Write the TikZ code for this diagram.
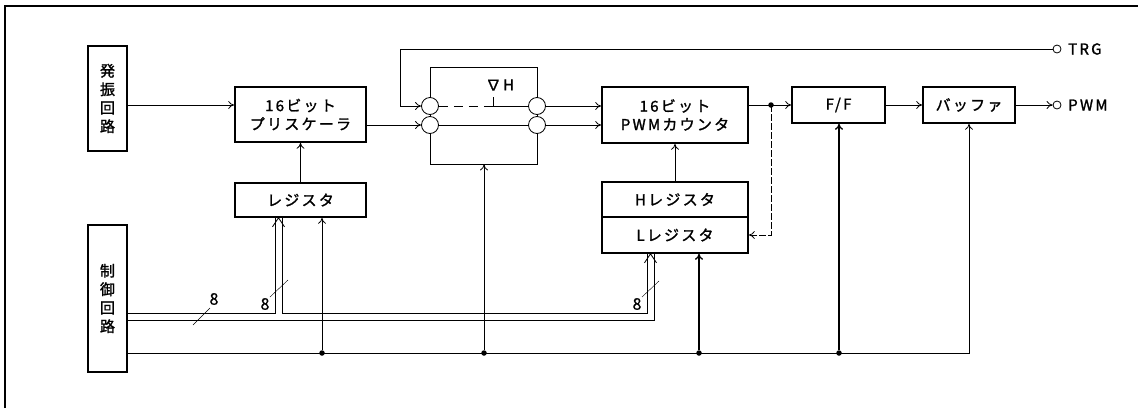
\documentclass[tikz,border=0pt]{standalone}
\usepackage{fontspec}
\usepackage{tikz}
\usetikzlibrary{arrows.meta, calc}
\newfontfamily\jp[LetterSpace=15, FakeBold=1.5]{Noto Sans CJK JP}
\newfontfamily\jpnum[FakeBold=1]{Noto Sans CJK JP}
\newcommand{\jpfs}{\jp\fontsize{15}{18.5}\selectfont}

\begin{document}
\begin{tikzpicture}[x=1pt, y=-1pt,
  box/.style={draw, line width=1.6pt, inner sep=0pt, align=center, font=\jpfs},
  port/.style={draw, circle, line width=0.8pt, minimum size=8pt, inner sep=0pt, fill=white},
  swc/.style={draw, circle, line width=0.8pt, minimum size=17pt, inner sep=0pt, fill=white},
  arw/.style={-{To[length=6pt, width=8pt]}, line width=0.8pt},
  dot/.style={circle, fill, inner sep=0pt, minimum size=5.5pt},
  wire/.style={line width=0.8pt},
  lbl/.style={inner sep=0pt, font=\jpfs}]
  \useasboundingbox (0,0) rectangle (1138,408);

  % Frame (top and left edge)
  \draw[line width=1.3pt] (5,408) -- (5,6) -- (1138,6);

  % Blocks
  \node[box, minimum width=39pt, minimum height=105pt] (osc) at (107.5,98.5) {発\\振\\回\\路};
  \node[box, minimum width=39pt, minimum height=147pt] (ctrl) at (107.5,298.5) {制\\御\\回\\路};
  \node[box, minimum width=131pt, minimum height=55pt] (presc) at (300.5,114.5) {16ビット\\プリスケーラ};
  \node[box, minimum width=131pt, minimum height=34pt] (reg) at (300.5,200) {レジスタ};
  \node[box, minimum width=146pt, minimum height=56pt] (cnt) at (675,115) {16ビット\\PWMカウンタ};
  \node[box, minimum width=146pt, minimum height=35pt] (hreg) at (675,199.5) {Hレジスタ};
  \node[box, minimum width=146pt, minimum height=36pt] (lreg) at (675,235) {Lレジスタ};
  \node[box, minimum width=93pt, minimum height=36pt] (ff) at (838.5,105) {F/F};
  \node[box, minimum width=92pt, minimum height=36pt] (buf) at (969,105) {バッファ};

  % Switch block
  \node[draw, line width=0.8pt, minimum width=107pt, minimum height=97pt] (sw) at (483.5,115.5) {};
  \node[swc] (swa) at (430,106) {};
  \node[swc] (swb) at (430,125) {};
  \node[swc] (swcc) at (537,106) {};
  \node[swc] (swd) at (537,125) {};
  \node[lbl] (dh) at (500,85) {∇H};
  \coordinate (tick) at (493,106);
  \draw[wire, dashed, dash pattern=on 9pt off 6pt] (swa) -- (tick);
  \draw[wire] (tick) -- (swcc);
  \draw[wire] (tick) -- ++(0,-9);
  \draw[wire] (swb) -- (swd);

  % Outputs
  \node[port] (trg) at (1057,49) {};
  \node[lbl, anchor=west] (trgl) at (1068,49) {TRG};
  \node[port] (pwm) at (1057,105) {};
  \node[lbl, anchor=west] (pwml) at (1068,105) {PWM};

  % Signal flow
  \draw[arw] (osc.east |- 0,105) -- (presc.west |- 0,105);
  \draw[arw] (presc.east |- swb) -- (swb);
  \coordinate (trgbend) at (400,49);
  \draw[arw] (trg) -- (trgbend) -- (trgbend |- swa) -- (swa);
  \draw[arw] (swcc) -- (cnt.west |- swcc);
  \draw[arw] (swd) -- (cnt.west |- swd);
  \draw[arw] (reg.north) -- (presc.south);
  \draw[arw] (hreg.north) -- (cnt.south);
  \coordinate (j) at (771,105);
  \draw[wire] (cnt.east |- j) -- (j);
  \draw[arw] (j) -- (ff.west);
  \node[dot] (jd) at (j) {};
  \draw[arw, dashed, dash pattern=on 7pt off 2pt] (j) -- (j |- lreg.east) -- (lreg.east);
  \draw[arw] (ff) -- (buf);
  \draw[arw] (buf) -- (pwm);

  % Common bus from control circuit
  \node[dot] (d1) at (322,353) {};
  \node[dot] (d2) at (484,353) {};
  \node[dot] (d3) at (699,353) {};
  \node[dot] (d4) at (839,353) {};
  \coordinate (busend) at (buf.south |- d1);
  \draw[arw] (ctrl.east |- d1) -- (busend) -- (buf.south);
  \draw[arw] (d1) -- (reg.south -| d1);
  \draw[arw] (d2) -- (sw.south -| d2);
  \draw[arw, line width=1.3pt] (d3) -- (lreg.south -| d3);
  \draw[arw, line width=1.3pt] (d4) -- (ff.south -| d4);

  % 8 bit data bus (double line)
  \coordinate (ta) at (275,313);
  \coordinate (tb) at (282,313);
  \coordinate (tc) at (647,313);
  \coordinate (td) at (654,320);
  \draw[wire] (ctrl.east |- ta) -- (ta) -- (reg.south -| ta);
  \draw[wire] (reg.south -| tb) -- (tb) -- (tc) -- (lreg.south -| tc);
  \draw[wire] (ctrl.east |- td) -- (td) -- (lreg.south -| td);
  \coordinate (ha) at ($(reg.south -| ta)!0.5!(reg.south -| tb)$);
  \coordinate (hb) at ($(lreg.south -| tc)!0.5!(lreg.south -| td)$);
  \draw[wire] ($(ha)+(-6,9)$) -- (ha) -- ($(ha)+(6,9)$);
  \draw[wire] ($(hb)+(-6,9)$) -- (hb) -- ($(hb)+(6,9)$);

  % Bus width marks
  \draw[thin] (193,325) -- (210,308);
  \node[inner sep=0pt, font=\jpnum\fontsize{16}{18}\selectfont] (w1) at (214,299) {8};
  \draw[thin] (270,297) -- (288,280);
  \node[inner sep=0pt, font=\jpnum\fontsize{16}{18}\selectfont] (w2) at (265,304) {8};
  \draw[thin] (642,297) -- (659,281);
  \node[inner sep=0pt, font=\jpnum\fontsize{16}{18}\selectfont] (w3) at (637,304) {8};
\end{tikzpicture}
\end{document}
